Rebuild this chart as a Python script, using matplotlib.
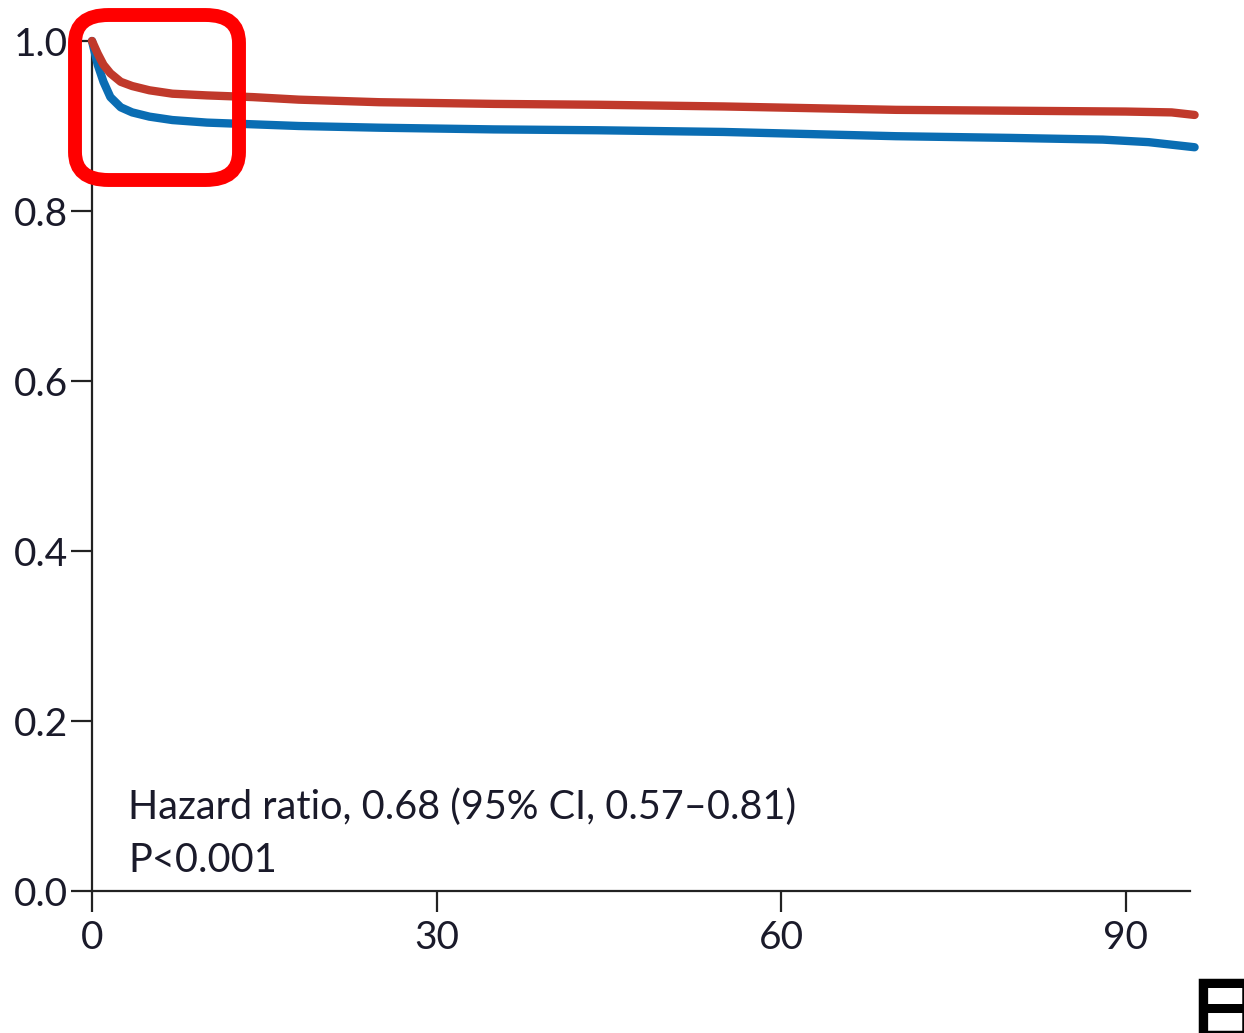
import numpy as np
import matplotlib
matplotlib.use("Agg")
import matplotlib.pyplot as plt
from matplotlib.patches import FancyBboxPatch

# survival curves (days, probability)
days_red = [0, 0.5, 1, 1.6, 2.5, 3.5, 5, 7, 10, 14, 18, 25, 35, 44, 55, 70, 80, 90, 94, 96]
surv_red = [1.0, 0.985, 0.972, 0.962, 0.952, 0.947, 0.942, 0.938, 0.936, 0.934, 0.931, 0.928, 0.926, 0.925, 0.923, 0.919, 0.918, 0.917, 0.916, 0.913]
days_blue = [0, 0.5, 1, 1.6, 2.5, 3.5, 5, 7, 10, 14, 18, 25, 35, 44, 55, 70, 80, 88, 92, 96]
surv_blue = [1.0, 0.972, 0.952, 0.934, 0.922, 0.916, 0.911, 0.907, 0.904, 0.902, 0.900, 0.898, 0.896, 0.895, 0.893, 0.888, 0.886, 0.884, 0.881, 0.875]
xticks = [0, 30, 60, 90]
yticks = [0.0, 0.2, 0.4, 0.6, 0.8, 1.0]

RED = "#c0392b"
BLUE = "#0a6db3"
INK = "#1a1a2a"

plt.rcParams["font.family"] = ["Lato", "DejaVu Sans"]
fig = plt.figure(figsize=(12.44, 10.33), dpi=100)
W, H = 1244, 1033
# axes box in pixels: x 92..1190, y 41..891
ax = fig.add_axes([92 / W, 1 - 891 / H, (1190 - 92) / W, (891 - 41) / H])

ax.plot(days_blue, surv_blue, color=BLUE, lw=6, solid_capstyle="round", clip_on=False, zorder=3)
ax.plot(days_red, surv_red, color=RED, lw=6, solid_capstyle="round", clip_on=False, zorder=4)

ax.set_xlim(0, 95.6)
ax.set_ylim(0, 1.0)
ax.set_xticks(xticks)
ax.set_xticklabels([str(t) for t in xticks])
ax.set_yticks(yticks)
ax.set_yticklabels(["%.1f" % t for t in yticks])
for s in ("top", "right"):
    ax.spines[s].set_visible(False)
for s in ("left", "bottom"):
    ax.spines[s].set_linewidth(1.6)
    ax.spines[s].set_color("#222222")
ax.tick_params(direction="out", length=15, width=1.6, color="#222222",
               labelsize=28, labelcolor=INK, pad=2)
ax.tick_params(axis="x", pad=6)

ax.text(128 / W, 1 - 807 / H, "Hazard ratio, 0.68 (95% CI, 0.57\u20130.81)",
        transform=fig.transFigure, fontsize=28.5, color=INK, va="center", ha="left")
ax.text(128 / W, 1 - 860 / H, "P<0.001", transform=fig.transFigure,
        fontsize=28.5, color=INK, va="center", ha="left")

# red highlight box around the early drop
box = FancyBboxPatch((75 / W, 1 - 180 / H), (239 - 75) / W, (180 - 15) / H,
                     boxstyle="round,pad=0,rounding_size=0.027",
                     transform=fig.transFigure, fill=False, edgecolor="#ff0000",
                     linewidth=10, zorder=10)
fig.patches.append(box)

fig.text(1186 / W, 1 - 977 / H, "\u65e5", fontsize=55, fontweight="bold",
         family=["Noto Sans CJK SC", "DejaVu Sans"], color="black", ha="left", va="top")

fig.savefig("out.png", dpi=100)
